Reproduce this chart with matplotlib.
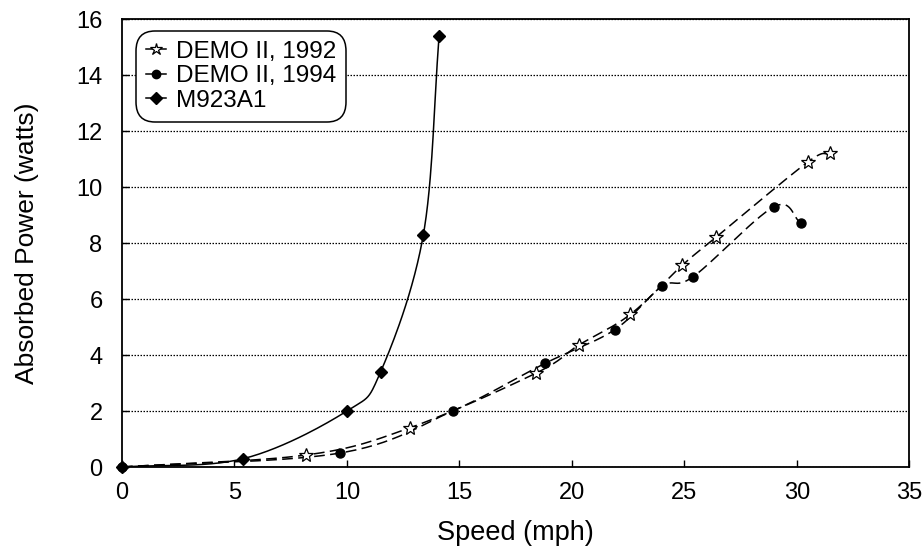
import numpy as np
import matplotlib
matplotlib.use("Agg")
import matplotlib.pyplot as plt
from matplotlib.lines import Line2D

plt.rcParams['font.family'] = ['Liberation Sans', 'DejaVu Sans']

# Data
demo92_x = [0, 8.2, 12.8, 18.4, 20.3, 22.6, 24.9, 26.4, 30.5, 31.5]
demo92_y = [0, 0.43, 1.4, 3.35, 4.35, 5.45, 7.2, 8.2, 10.9, 11.2]
demo94_x = [0, 9.7, 14.7, 18.8, 21.9, 24.0, 25.4, 29.0, 30.2]
demo94_y = [0, 0.5, 2.0, 3.7, 4.9, 6.45, 6.8, 9.3, 8.7]
m923_x = [0, 5.4, 10.0, 11.5, 13.4, 14.1]
m923_y = [0, 0.3, 2.0, 3.4, 8.3, 15.4]
labels = ["DEMO II, 1992", "DEMO II, 1994", "M923A1"]


def smooth(x, y, n=30):
    """Catmull-Rom spline through the data points (for line drawing only)."""
    x = np.asarray(x, float)
    y = np.asarray(y, float)
    P = np.column_stack([x, y])
    P = np.vstack([P[0] - (P[1] - P[0]), P, P[-1] + (P[-1] - P[-2])])
    out = []
    for i in range(1, len(P) - 2):
        p0, p1, p2, p3 = P[i - 1], P[i], P[i + 1], P[i + 2]
        t = np.linspace(0, 1, n)[:, None]
        seg = 0.5 * ((2 * p1) + (-p0 + p2) * t + (2 * p0 - 5 * p1 + 4 * p2 - p3) * t ** 2
                     + (-p0 + 3 * p1 - 3 * p2 + p3) * t ** 3)
        out.append(seg)
    s = np.vstack(out)
    return s[:, 0], s[:, 1]


fig = plt.figure(figsize=(9.24, 5.53), dpi=100)
ax = fig.add_axes([0.132, 0.1555, 0.852, 0.81])

# M923A1
sx, sy = smooth(m923_x, m923_y)
sy = np.maximum(sy, 0)
ax.plot(sx, sy, color='black', lw=1.1, zorder=3)
ax.plot(m923_x, m923_y, linestyle='none', marker='D', ms=6.5, color='black',
        zorder=4, clip_on=False)

# DEMO II 1994
sx, sy = smooth(demo94_x, demo94_y)
sy = np.maximum(sy, 0)
ax.plot(sx, sy, color='black', lw=1.1, ls=(0, (7, 3.5)), zorder=3)
ax.plot(demo94_x, demo94_y, linestyle='none', marker='o', ms=6.5, color='black',
        zorder=4, clip_on=False)

# DEMO II 1992
sx, sy = smooth(demo92_x, demo92_y)
sy = np.maximum(sy, 0)
ax.plot(sx, sy, color='black', lw=1.1, ls=(0, (7, 3.5)), zorder=3)
ax.plot(demo92_x[1:], demo92_y[1:], linestyle='none', marker='*', ms=10, mfc='white',
        mec='black', mew=0.9, zorder=4)

ax.set_xlim(0, 35)
ax.set_ylim(0, 16)
ax.set_xticks(np.arange(0, 36, 5))
ax.set_yticks(np.arange(0, 17, 2))
ax.tick_params(direction='in', length=5, width=1, labelsize=17)
ax.tick_params(axis='x', pad=11)
ax.tick_params(axis='y', pad=14)
ax.yaxis.grid(True, linestyle=(0, (1.2, 1.2)), color='black', lw=0.9)
ax.set_axisbelow(True)
for sp in ax.spines.values():
    sp.set_linewidth(1.3)

ax.set_xlabel("Speed (mph)", fontsize=19.5, va='center')
ax.set_ylabel("Absorbed Power (watts)", fontsize=19, va='center')
ax.xaxis.set_label_coords(0.5, -0.147)
ax.yaxis.set_label_coords(-0.12, 0.5)

handles = [
    Line2D([], [], color='black', lw=1.1, marker='*', ms=9, mfc='white', mec='black', mew=0.9),
    Line2D([], [], color='black', lw=1.1, marker='o', ms=6),
    Line2D([], [], color='black', lw=1.1, marker='D', ms=6),
]
leg = ax.legend(handles, labels, loc='upper left', bbox_to_anchor=(0.024, 0.962),
                fontsize=17.5, handlelength=0.85, handletextpad=0.4, borderpad=0.2,
                labelspacing=0.1, fancybox=True, framealpha=1, edgecolor='black',
                borderaxespad=0)
leg.get_frame().set_linewidth(1.1)
leg.get_frame().set_boxstyle('round,pad=0.2,rounding_size=0.8')

fig.savefig("out.png", dpi=100)
